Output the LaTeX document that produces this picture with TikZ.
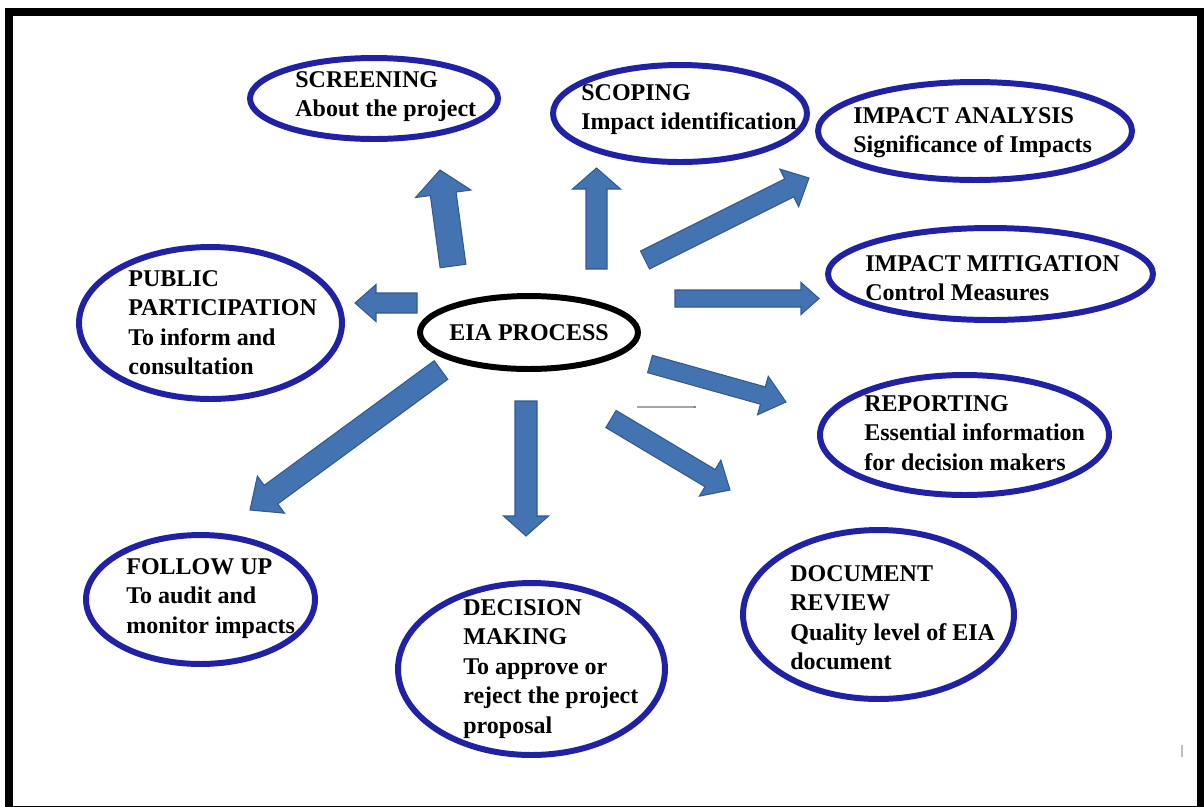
\documentclass[tikz,border=0pt]{standalone}
\usepackage{fontspec}
\setmainfont{Liberation Serif}
\usetikzlibrary{calc,shapes.geometric}
\definecolor{ellblue}{RGB}{33,33,165}
\definecolor{arrfill}{RGB}{67,115,177}
\definecolor{arredge}{RGB}{50,90,145}
\tikzset{
  stage/.style={ellipse, draw=ellblue, line width=3.4pt, inner sep=0pt, fill=none},
  hub/.style={ellipse, draw=black, line width=3.4pt, inner sep=0pt},
  lbl/.style={font=\fontsize{13.66}{16.8}\selectfont\bfseries, align=left, inner sep=0pt, anchor=north west},
  barrow/.style={fill=arrfill, draw=arredge, line width=0.6pt, line join=miter},
  frame/.style={draw=black, line width=4.55pt}
}
% #1 tail, #2 tip, #3 shaft width px, #4 head width px, #5 head length px
\newcommand\blockarrow[5]{%
  \filldraw[barrow] let \p1=(#1), \p2=(#2),
    \n1={atan2(\y2-\y1,\x2-\x1)},
    \n2={veclen(\x2-\x1,\y2-\y1)-#5*0.569055pt},
    \n3={#3*0.2845276pt}, \n4={#4*0.2845276pt} in
    ([shift={(\n1+90:\n3)}]\p1)
    -- ([shift={(\n1:\n2)},shift={(\n1+90:\n3)}]\p1)
    -- ([shift={(\n1:\n2)},shift={(\n1+90:\n4)}]\p1)
    -- (\p2)
    -- ([shift={(\n1:\n2)},shift={(\n1-90:\n4)}]\p1)
    -- ([shift={(\n1:\n2)},shift={(\n1-90:\n3)}]\p1)
    -- ([shift={(\n1-90:\n3)}]\p1)
    -- cycle;}
\begin{document}
\begin{tikzpicture}[x=0.02cm, y=-0.02cm]
\useasboundingbox (0,0) rectangle (1204,806);
\path[frame] (9,12) rectangle (1200.5,810);

% ellipses
\node[stage, minimum width=4.96cm, minimum height=1.62cm] (scr) at (374,98.5) {};
\node[stage, minimum width=5.08cm, minimum height=1.94cm] (scp) at (680,113.5) {};
\node[stage, minimum width=6.28cm, minimum height=1.96cm] (ia) at (975,131) {};
\node[stage, minimum width=6.50cm, minimum height=1.84cm] (im) at (990.5,274) {};
\node[stage, minimum width=5.78cm, minimum height=2.40cm] (rep) at (964.5,435) {};
\node[stage, minimum width=5.42cm, minimum height=3.38cm] (doc) at (878.5,614.5) {};
\node[stage, minimum width=5.34cm, minimum height=3.44cm] (dec) at (531.5,669) {};
\node[stage, minimum width=4.58cm, minimum height=2.58cm] (fol) at (200.5,599.5) {};
\node[stage, minimum width=5.26cm, minimum height=3.04cm] (pub) at (210.5,323) {};
\node[hub, minimum width=4.36cm, minimum height=1.46cm] (eia) at (529,332.5) {};

% labels
\node[lbl] (scrT) at (295,71) {SCREENING\\About the project};
\node[lbl] (scpT) at (581,84) {SCOPING\\Impact identification};
\node[lbl] (iaT) at (853,107) {IMPACT ANALYSIS\\Significance of Impacts};
\node[lbl] (imT) at (865,255) {IMPACT MITIGATION\\Control Measures};
\node[lbl] (repT) at (864,395) {REPORTING\\Essential information\\for decision makers};
\node[lbl] (docT) at (790,565) {DOCUMENT\\REVIEW\\Quality level of EIA\\document};
\node[lbl] (decT) at (463,599) {DECISION\\MAKING\\To approve or\\reject the project\\proposal};
\node[lbl] (folT) at (126,558) {FOLLOW UP\\To audit and\\monitor impacts};
\node[lbl] (pubT) at (128,270) {PUBLIC\\PARTICIPATION\\To inform and\\consultation};
\node[lbl] (eiaT) at (449,324) {EIA PROCESS};

% arrow end points
\coordinate (s1) at (453,266); \coordinate (e1) at (440,170);
\coordinate (s2) at (596.5,269); \coordinate (e2) at (596.5,168);
\coordinate (s3) at (645,260); \coordinate (e3) at (809,178);
\coordinate (s4) at (675,298.5); \coordinate (e4) at (819,298.5);
\coordinate (s5) at (650,364); \coordinate (e5) at (786,402);
\coordinate (s6) at (611,419); \coordinate (e6) at (730,490);
\coordinate (s7) at (526,401); \coordinate (e7) at (526,536);
\coordinate (s8) at (441,370); \coordinate (e8) at (250,510);
\coordinate (s9) at (417,303); \coordinate (e9) at (355,303);

\blockarrow{s1}{e1}{26}{56}{24}
\blockarrow{s2}{e2}{21}{48}{21}
\blockarrow{s3}{e3}{20}{42}{22}
\blockarrow{s4}{e4}{17}{32}{18}
\blockarrow{s5}{e5}{18}{40}{24}
\blockarrow{s6}{e6}{20}{42}{23}
\blockarrow{s7}{e7}{22}{45}{20}
\blockarrow{s8}{e8}{23}{46}{26}
\blockarrow{s9}{e9}{20}{37}{21}

% small stray marks
\coordinate (m1) at (637,407); \coordinate (m2) at (695,407);
\draw[black!35, line width=0.6pt] (m1) -- (m2);
\fill[black!60] (m2) circle (1.2);
\coordinate (t1) at (1182,745); \coordinate (t2) at (1182,757);
\draw[black!25, line width=0.6pt] (t1) -- (t2);
\end{tikzpicture}
\end{document}
